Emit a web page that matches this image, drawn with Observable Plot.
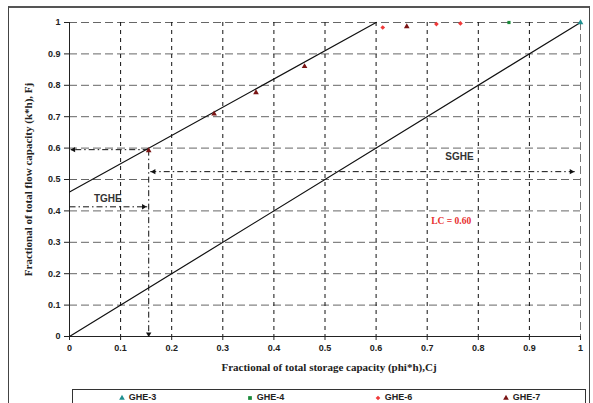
<!DOCTYPE html>
<html><head><meta charset="utf-8">
<script src="https://cdn.jsdelivr.net/npm/d3@7"></script>
<script src="https://cdn.jsdelivr.net/npm/@observablehq/plot@0.6"></script>
<style>
body{margin:0;background:#fff;width:593px;height:403px;overflow:hidden;position:relative;}
#frame{position:absolute;left:8px;top:6px;width:582px;height:400px;border:1px solid #444;border-top:2px solid #555;box-sizing:border-box;}
#chart{position:absolute;left:0;top:0;}
#legend{position:absolute;left:72px;top:389px;width:514px;height:20px;border:1px solid #333;box-sizing:border-box;display:grid;grid-template-columns:repeat(4,1fr);font:bold 9px "Liberation Sans",Arial,sans-serif;color:#222;background:#fff;}
.item{display:flex;justify-content:center;align-items:flex-start;padding-top:2px;gap:3px;line-height:11px;}
</style></head>
<body>
<div id="frame"></div>
<div id="chart"></div>
<div id="legend"></div>
<script>
// Series data (Cj, Fj)
const ghe3 = [[1.0, 1.0]];
const ghe4 = [[0.86, 1.0]];
const ghe6 = [[0.613, 0.984], [0.718, 0.995], [0.765, 0.997]];
const ghe7 = [[0.155, 0.592], [0.283, 0.709], [0.365, 0.777], [0.46, 0.86], [0.66, 0.987]];
const seriesNames = ["GHE-3", "GHE-4", "GHE-6", "GHE-7"];
const seriesColors = ["#1f9090", "#1a8a3a", "#f03a3a", "#7a1414"];
const seriesSymbols = ["triangle", "square", "diamond2", "triangle"];
// Reference lines
const diagLine = [[0, 0], [1, 1]];
const fitLine = [[0, 0.46], [0.6, 1]];
// Annotation segments (dash-dot)
const segs = [
  {x1: 0.155, y1: 0.595, x2: 0.0, y2: 0.595},
  {x1: 0.155, y1: 0.595, x2: 0.155, y2: 0.0},
  {x1: 0.158, y1: 0.525, x2: 0.99, y2: 0.525},
  {x1: 0.0, y1: 0.413, x2: 0.152, y2: 0.413}
];
const heads = [
  {x: 0.008, y: 0.595, rot: -90},
  {x: 0.155, y: 0.008, rot: 180},
  {x: 0.165, y: 0.525, rot: -90},
  {x: 0.982, y: 0.525, rot: 90},
  {x: 0.145, y: 0.413, rot: 90}
];
const labels = [
  {x: 0.075, y: 0.438, text: "TGHE"},
  {x: 0.763, y: 0.571, text: "SGHE"}
];
const lcLabel = [{x: 0.747, y: 0.367, text: "LC = 0.60"}];
const xTicks = [0, 0.1, 0.2, 0.3, 0.4, 0.5, 0.6, 0.7, 0.8, 0.9, 1];
const yTicks = [0, 0.1, 0.2, 0.3, 0.4, 0.5, 0.6, 0.7, 0.8, 0.9, 1];
const xLabel = "Fractional of total storage capacity (phi*h),Cj";
const yLabel = "Fractional of total flow capacity (k*h), Fj";

const sans = '"Liberation Sans", Arial, sans-serif';
const serif = '"Liberation Serif", "Times New Roman", serif';
const series = [ghe3, ghe4, ghe6, ghe7];
const fmt = d => String(d);

const chart = Plot.plot({
  width: 593, height: 388,
  marginLeft: 69, marginRight: 13, marginTop: 22, marginBottom: 52,
  style: {fontFamily: sans, fontSize: "9px", fontWeight: "bold", color: "#222", background: "transparent"},
  x: {domain: [0, 1], label: null},
  y: {domain: [0, 1], label: null},
  marks: [
    Plot.gridY(yTicks.slice(1), {stroke: "#666", strokeOpacity: 1, strokeDasharray: "8,4"}),
    Plot.gridX(xTicks.slice(1, 10), {stroke: "#111", strokeOpacity: 1, strokeDasharray: "4,4"}),
    Plot.gridX([1], {stroke: "#777", strokeOpacity: 1, strokeDasharray: "8,4"}),
    Plot.ruleX([0], {stroke: "#222"}),
    Plot.ruleY([0], {stroke: "#222"}),
    Plot.line(diagLine, {x: d => d[0], y: d => d[1], stroke: "#111", strokeWidth: 1.2}),
    Plot.line(fitLine, {x: d => d[0], y: d => d[1], stroke: "#111", strokeWidth: 1.2}),
    Plot.link(segs, {x1: "x1", y1: "y1", x2: "x2", y2: "y2", stroke: "#111", strokeWidth: 1, strokeDasharray: "6,3,1.5,3"}),
    Plot.dot(heads, {x: "x", y: "y", rotate: "rot", symbol: "triangle", r: 2, fill: "#111", stroke: "none"}),
    ...series.map((s, i) => Plot.dot(s, {x: d => d[0], y: d => d[1], symbol: seriesSymbols[i], r: i === 1 ? 1.8 : 2.1, fill: seriesColors[i], stroke: "none"})),
    Plot.text(labels, {x: "x", y: "y", text: "text", fontSize: 10, fontWeight: "bold", fill: "#333", fontFamily: sans}),
    Plot.text(lcLabel, {x: "x", y: "y", text: "text", fontSize: 9.5, fontWeight: "bold", fill: "#e8302f", fontFamily: serif}),
    Plot.axisX({ticks: xTicks, tickFormat: fmt, tickSize: 4, tickPadding: 4, fontWeight: "bold", label: null}),
    Plot.axisY({ticks: yTicks, tickFormat: fmt, tickSize: 5, tickPadding: 4, fontWeight: "bold", label: null}),
    Plot.text([xLabel], {frameAnchor: "bottom", dy: 34, dx: 4, text: d => d, fontFamily: serif, fontSize: 11, fontWeight: "bold", fill: "#222"}),
    Plot.text([yLabel], {frameAnchor: "left", textAnchor: "middle", dx: -41, dy: 0, rotate: -90, text: d => d, fontFamily: serif, fontSize: 11, fontWeight: "bold", fill: "#222"})
  ]
});
document.getElementById("chart").appendChild(chart);

const legend = document.getElementById("legend");
seriesNames.forEach((name, i) => {
  const item = document.createElement("div");
  item.className = "item";
  const t = seriesSymbols[i] === "square" ? d3.symbolSquare : seriesSymbols[i] === "diamond2" ? d3.symbolDiamond2 : d3.symbolTriangle;
  const sym = d3.symbol().type(t).size(14);
  item.innerHTML = `<svg width="8" height="11"><path transform="translate(4,6)" d="${sym()}" fill="${seriesColors[i]}"/></svg><span>${name}</span>`;
  legend.appendChild(item);
});
</script>
</body></html>
